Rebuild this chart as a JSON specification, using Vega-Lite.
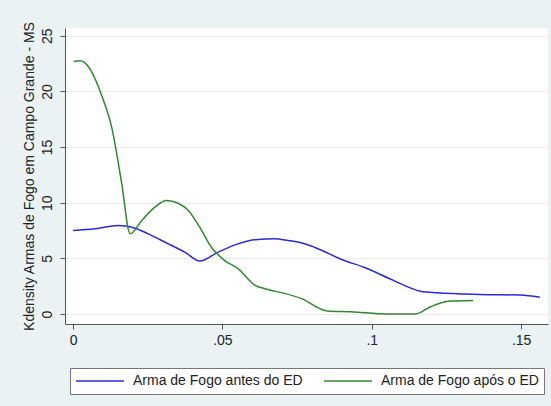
{
  "$schema": "https://vega.github.io/schema/vega-lite/v6.json",
  "width": 551,
  "height": 406,
  "autosize": {"type": "fit", "contains": "padding"},
  "padding": {"left": 22, "top": 28, "right": 3, "bottom": 11},
  "background": "#eaf2f3",
  "config": {
    "font": "Liberation Sans",
    "view": {"fill": "white", "stroke": null},
    "axis": {"labelFont": "Liberation Sans", "titleFont": "Liberation Sans", "labelColor": "#222", "titleColor": "#222", "domainColor": "#555", "tickColor": "#555", "labelFontSize": 14, "titleFontSize": 14, "titleFontWeight": "normal"},
    "legend": {"labelFont": "Liberation Sans", "labelFontSize": 14, "labelColor": "#222", "labelLimit": 400, "layout": {"bottom": {"anchor": "middle"}}}
  },
  "data": {"values": [
    {"x": 0.0000, "y": 7.5, "s": "Arma de Fogo antes do ED"},
    {"x": 0.0074, "y": 7.65, "s": "Arma de Fogo antes do ED"},
    {"x": 0.0152, "y": 7.95, "s": "Arma de Fogo antes do ED"},
    {"x": 0.0197, "y": 7.8, "s": "Arma de Fogo antes do ED"},
    {"x": 0.0252, "y": 7.2, "s": "Arma de Fogo antes do ED"},
    {"x": 0.0319, "y": 6.3, "s": "Arma de Fogo antes do ED"},
    {"x": 0.0374, "y": 5.56, "s": "Arma de Fogo antes do ED"},
    {"x": 0.0424, "y": 4.76, "s": "Arma de Fogo antes do ED"},
    {"x": 0.0486, "y": 5.56, "s": "Arma de Fogo antes do ED"},
    {"x": 0.0552, "y": 6.3, "s": "Arma de Fogo antes do ED"},
    {"x": 0.0619, "y": 6.7, "s": "Arma de Fogo antes do ED"},
    {"x": 0.0674, "y": 6.75, "s": "Arma de Fogo antes do ED"},
    {"x": 0.0720, "y": 6.6, "s": "Arma de Fogo antes do ED"},
    {"x": 0.0763, "y": 6.4, "s": "Arma de Fogo antes do ED"},
    {"x": 0.0808, "y": 6.0, "s": "Arma de Fogo antes do ED"},
    {"x": 0.0908, "y": 4.8, "s": "Arma de Fogo antes do ED"},
    {"x": 0.0974, "y": 4.2, "s": "Arma de Fogo antes do ED"},
    {"x": 0.1074, "y": 3.0, "s": "Arma de Fogo antes do ED"},
    {"x": 0.1163, "y": 2.05, "s": "Arma de Fogo antes do ED"},
    {"x": 0.1219, "y": 1.9, "s": "Arma de Fogo antes do ED"},
    {"x": 0.1363, "y": 1.75, "s": "Arma de Fogo antes do ED"},
    {"x": 0.1497, "y": 1.7, "s": "Arma de Fogo antes do ED"},
    {"x": 0.1563, "y": 1.5, "s": "Arma de Fogo antes do ED"},
    {"x": 0.0002, "y": 22.7, "s": "Arma de Fogo após o ED"},
    {"x": 0.0024, "y": 22.75, "s": "Arma de Fogo após o ED"},
    {"x": 0.0052, "y": 22.2, "s": "Arma de Fogo após o ED"},
    {"x": 0.0097, "y": 19.55, "s": "Arma de Fogo após o ED"},
    {"x": 0.0130, "y": 16.7, "s": "Arma de Fogo após o ED"},
    {"x": 0.0163, "y": 11.7, "s": "Arma de Fogo após o ED"},
    {"x": 0.0191, "y": 7.2, "s": "Arma de Fogo após o ED"},
    {"x": 0.0230, "y": 8.4, "s": "Arma de Fogo após o ED"},
    {"x": 0.0274, "y": 9.6, "s": "Arma de Fogo após o ED"},
    {"x": 0.0313, "y": 10.2, "s": "Arma de Fogo após o ED"},
    {"x": 0.0352, "y": 9.95, "s": "Arma de Fogo após o ED"},
    {"x": 0.0386, "y": 9.3, "s": "Arma de Fogo após o ED"},
    {"x": 0.0424, "y": 7.8, "s": "Arma de Fogo após o ED"},
    {"x": 0.0463, "y": 6.0, "s": "Arma de Fogo após o ED"},
    {"x": 0.0508, "y": 4.8, "s": "Arma de Fogo após o ED"},
    {"x": 0.0552, "y": 4.08, "s": "Arma de Fogo após o ED"},
    {"x": 0.0608, "y": 2.6, "s": "Arma de Fogo após o ED"},
    {"x": 0.0652, "y": 2.2, "s": "Arma de Fogo após o ED"},
    {"x": 0.0708, "y": 1.85, "s": "Arma de Fogo após o ED"},
    {"x": 0.0763, "y": 1.4, "s": "Arma de Fogo após o ED"},
    {"x": 0.0852, "y": 0.27, "s": "Arma de Fogo após o ED"},
    {"x": 0.0930, "y": 0.2, "s": "Arma de Fogo após o ED"},
    {"x": 0.1052, "y": 0.0, "s": "Arma de Fogo após o ED"},
    {"x": 0.1147, "y": 0.0, "s": "Arma de Fogo após o ED"},
    {"x": 0.1197, "y": 0.65, "s": "Arma de Fogo após o ED"},
    {"x": 0.1263, "y": 1.16, "s": "Arma de Fogo após o ED"},
    {"x": 0.1339, "y": 1.22, "s": "Arma de Fogo após o ED"}
  ]},
  "mark": {"type": "line", "strokeWidth": 1.5, "interpolate": "monotone"},
  "encoding": {
    "x": {"field": "x", "type": "quantitative",
      "scale": {"domain": [-0.0027, 0.159], "nice": false, "zero": false},
      "axis": {"values": [0, 0.05, 0.1, 0.15], "grid": false, "title": null, "tickSize": 5, "labelPadding": 4,
        "labelExpr": "datum.value == 0 ? '0' : substring(format(datum.value, '.2~f'), 1)"}},
    "y": {"field": "y", "type": "quantitative",
      "scale": {"domain": [-0.9, 25.7], "nice": false, "zero": false},
      "axis": {"values": [0, 5, 10, 15, 20, 25], "grid": true, "gridColor": "#ececec", "title": "Kdensity Armas de Fogo em Campo Grande - MS",
        "tickSize": 5, "labelAngle": -90, "labelAlign": "center", "labelBaseline": "bottom", "labelPadding": 6, "titlePadding": 4}},
    "color": {"field": "s", "type": "nominal",
      "scale": {"domain": ["Arma de Fogo antes do ED", "Arma de Fogo após o ED"], "range": ["#2a2ad8", "#2f8a2f"]},
      "legend": {"title": null, "orient": "bottom", "direction": "horizontal", "symbolType": "stroke", "symbolSize": 2304, "symbolStrokeWidth": 1.5, "clipHeight": 16,
        "strokeColor": "#777", "fillColor": "white", "padding": 5, "columnPadding": 20, "labelOffset": 8, "offset": 21}}
  }
}
